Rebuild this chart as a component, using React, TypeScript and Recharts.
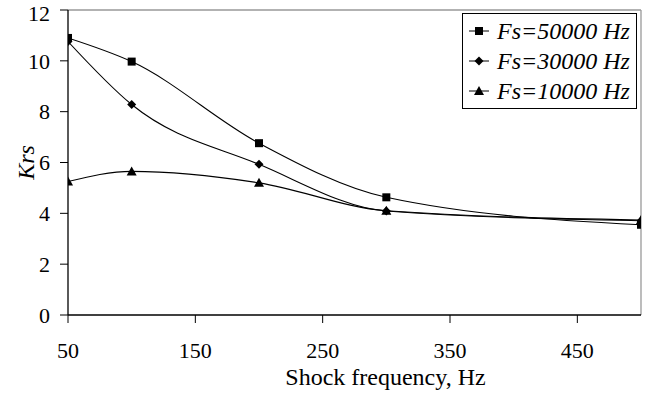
import {
  LineChart,
  Line,
  XAxis,
  YAxis,
  Legend,
  ReferenceLine,
} from "recharts";

const frequencies = [50, 100, 200, 300, 500];
const fs50000 = [10.9, 9.97, 6.76, 4.63, 3.55];
const fs30000 = [10.76, 8.28, 5.93, 4.09, 3.71];
const fs10000 = [5.25, 5.65, 5.2, 4.1, 3.74];
const xTicks = [50, 150, 250, 350, 450];
const yTicks = [0, 2, 4, 6, 8, 10, 12];

const FONT = "Times New Roman, Liberation Serif, DejaVu Serif, serif";

const data = frequencies.map((f, i) => ({
  f,
  s50: fs50000[i],
  s30: fs30000[i],
  s10: fs10000[i],
}));

type Shape = "square" | "diamond" | "triangle";

const series: { key: string; name: string; shape: Shape }[] = [
  { key: "s50", name: "Fs=50000 Hz", shape: "square" },
  { key: "s30", name: "Fs=30000 Hz", shape: "diamond" },
  { key: "s10", name: "Fs=10000 Hz", shape: "triangle" },
];

function Marker({ cx, cy, shape }: { cx: number; cy: number; shape: Shape }) {
  if (shape === "square") {
    return <rect x={cx - 4} y={cy - 4} width={8} height={8} fill="#000" />;
  }
  if (shape === "diamond") {
    return (
      <polygon
        points={`${cx},${cy - 4.5} ${cx + 4.5},${cy} ${cx},${cy + 4.5} ${cx - 4.5},${cy}`}
        fill="#000"
      />
    );
  }
  return (
    <polygon
      points={`${cx},${cy - 5} ${cx + 5},${cy + 4} ${cx - 5},${cy + 4}`}
      fill="#000"
    />
  );
}

const makeDot = (shape: Shape) => (props: any) => {
  const { cx, cy, index } = props;
  if (cx == null || cy == null) return <g key={index} />;
  return (
    <g key={`${shape}-${index}`}>
      <Marker cx={cx} cy={cy} shape={shape} />
    </g>
  );
};

function LegendBox() {
  return (
    <div
      style={{
        border: "1px solid #000",
        background: "#fff",
        padding: "2px 6px 2px 5px",
        fontFamily: FONT,
        fontStyle: "italic",
        fontSize: 24,
        lineHeight: "30px",
        color: "#000",
        whiteSpace: "nowrap",
      }}
    >
      {series.map((s) => (
        <div key={s.key} style={{ display: "flex", alignItems: "center" }}>
          <svg width={22} height={12} style={{ marginRight: 7 }}>
            <line x1={1} y1={6} x2={21} y2={6} stroke="#000" strokeWidth={1} />
            <Marker cx={11} cy={6} shape={s.shape} />
          </svg>
          <span>{s.name}</span>
        </div>
      ))}
    </div>
  );
}

export default function App() {
  return (
    <div style={{ position: "fixed", left: 0, top: 0, background: "#fff" }}>
      <LineChart
        width={655}
        height={394}
        data={data}
        margin={{ top: 10, right: 14, bottom: 0, left: 0 }}
      >
        <XAxis
          dataKey="f"
          type="number"
          domain={[50, 500]}
          ticks={xTicks}
          allowDataOverflow
          height={79}
          tickSize={8}
          tickMargin={19}
          axisLine={{ stroke: "#000", strokeWidth: 1.3 }}
          tickLine={{ stroke: "#000" }}
          tick={{ fontSize: 22, fill: "#000", fontFamily: FONT }}
          label={{
            value: "Shock frequency, Hz",
            position: "insideBottom",
            offset: 9,
            dx: 31,
            style: { fontSize: 24, fill: "#000", fontFamily: FONT },
          }}
        />
        <YAxis
          type="number"
          domain={[0, 12]}
          ticks={yTicks}
          width={68}
          tickSize={8}
          tickMargin={10}
          axisLine={{ stroke: "#000", strokeWidth: 1.3 }}
          tickLine={{ stroke: "#000" }}
          tick={{ fontSize: 22, fill: "#000", fontFamily: FONT }}
          label={{
            value: "Krs",
            angle: -90,
            position: "insideLeft",
            offset: 25,
            style: {
              fontSize: 24,
              fill: "#000",
              fontFamily: FONT,
              fontStyle: "italic",
              textAnchor: "middle",
            },
          }}
        />
        <ReferenceLine y={12} stroke="#999" strokeWidth={1.3} />
        <ReferenceLine x={500} stroke="#999" strokeWidth={1.3} />
        {series.map((s) => (
          <Line
            key={s.key}
            dataKey={s.key}
            name={s.name}
            type="monotone"
            stroke="#000"
            strokeWidth={1.1}
            dot={makeDot(s.shape)}
            activeDot={false}
            isAnimationActive={false}
          />
        ))}
        <Legend
          layout="vertical"
          align="center"
          verticalAlign="middle"
          wrapperStyle={{ top: 13, left: 462 }}
          content={() => <LegendBox />}
        />
      </LineChart>
    </div>
  );
}
